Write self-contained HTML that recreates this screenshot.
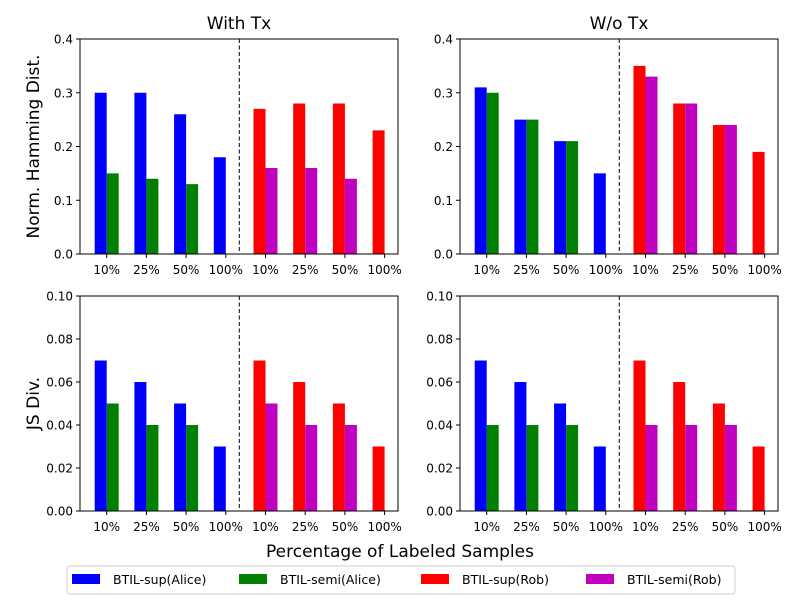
<!DOCTYPE html>
<html><head><meta charset="utf-8"><style>
body{margin:0;background:#fff}
svg{display:block;font-family:"DejaVu Sans","Liberation Sans",sans-serif}
</style></head><body>
<svg id="c" width="800" height="600" xmlns="http://www.w3.org/2000/svg"></svg>
<script>
const categories = ["10%","25%","50%","100%","10%","25%","50%","100%"];
const tlSup = [0.30,0.30,0.26,0.18,0.27,0.28,0.28,0.23];
const tlSemi = [0.15,0.14,0.13,null,0.16,0.16,0.14,null];
const trSup = [0.31,0.25,0.21,0.15,0.35,0.28,0.24,0.19];
const trSemi = [0.30,0.25,0.21,null,0.33,0.28,0.24,null];
const blSup = [0.07,0.06,0.05,0.03,0.07,0.06,0.05,0.03];
const blSemi = [0.05,0.04,0.04,null,0.05,0.04,0.04,null];
const brSup = [0.07,0.06,0.05,0.03,0.07,0.06,0.05,0.03];
const brSemi = [0.04,0.04,0.04,null,0.04,0.04,0.04,null];
const topTicks = [0,0.1,0.2,0.3,0.4];
const botTicks = [0,0.02,0.04,0.06,0.08,0.10];
const topTickLabels = ["0.0","0.1","0.2","0.3","0.4"];
const botTickLabels = ["0.00","0.02","0.04","0.06","0.08","0.10"];

const svg=document.getElementById('c');
const NS="http://www.w3.org/2000/svg";
function mk(t,a,txt){const e=document.createElementNS(NS,t);for(const k in a)e.setAttribute(k,a[k]);if(txt!==undefined)e.textContent=txt;svg.appendChild(e);return e;}

function panel(x0,y0,w,h,ymax,ticks,tlabels,sup,semi,name,title,ylabel){
  const xs=i=>x0+26.7+i*39.7;
  const ys=v=>y0+h-v/ymax*h;
  const bw=12;
  sup.forEach((v,i)=>{
    if(v===null)return;
    const r=mk('rect',{x:xs(i)-bw,y:ys(v),width:bw,height:y0+h-ys(v),fill:i<4?'#0000ff':'#ff0000'});
    
    
  });
  semi.forEach((v,i)=>{
    if(v===null)return;
    const r=mk('rect',{x:xs(i),y:ys(v),width:bw,height:y0+h-ys(v),fill:i<4?'#008000':'#bf00bf'});
    
    
  });
  const d=mk('line',{x1:x0+159.3,x2:x0+159.3,y1:y0,y2:y0+h,stroke:'#000','stroke-dasharray':'4,2.5','stroke-width':1});
  
  
  const f=mk('rect',{x:x0,y:y0,width:w,height:h,fill:'none',stroke:'#000','stroke-width':1});
  
  
  ticks.forEach((t,i)=>{
    mk('line',{x1:x0-4,x2:x0,y1:ys(t),y2:ys(t),stroke:'#000'});
    const l=mk('text',{x:x0-7,y:ys(t)+4.5,'text-anchor':'end','font-size':12},tlabels[i]);
    
    
  });
  categories.forEach((c,i)=>{
    mk('line',{x1:xs(i),x2:xs(i),y1:y0+h,y2:y0+h+4,stroke:'#000'});
    const l=mk('text',{x:xs(i),y:y0+h+20,'text-anchor':'middle','font-size':12},c);
    
    
  });
  if(title){const t=mk('text',{x:x0+w/2,y:y0-10,'text-anchor':'middle','font-size':17},title);
    }
  if(ylabel){const t=mk('text',{x:0,y:0,'text-anchor':'middle','font-size':17,transform:`translate(39,${y0+h/2}) rotate(-90)`},ylabel);
    }
}
panel(80,39,318,215,0.4,topTicks,topTickLabels,tlSup,tlSemi,'top-left','With Tx','Norm. Hamming Dist.');
panel(460,39,318,215,0.4,topTicks,topTickLabels,trSup,trSemi,'top-right','W/o Tx',null);
panel(80,296,318,215,0.1,botTicks,botTickLabels,blSup,blSemi,'bottom-left',null,'JS Div.');
panel(460,296,318,215,0.1,botTicks,botTickLabels,brSup,brSemi,'bottom-right',null,null);

const xl=mk('text',{x:400,y:557,'text-anchor':'middle','font-size':17},'Percentage of Labeled Samples');



const lg=mk('rect',{x:67,y:566,width:668,height:28,rx:3,fill:'#fff',stroke:'#ccc'});


const legendNames=["BTIL-sup(Alice)","BTIL-semi(Alice)","BTIL-sup(Rob)","BTIL-semi(Rob)"];
const legendColors=['#0000ff','#008000','#ff0000','#bf00bf'];
const legendX=[72,239,421,586];
legendNames.forEach((n,i)=>{
  const p=mk('rect',{x:legendX[i],y:574,width:28,height:10,fill:legendColors[i]});
  
  
  const t=mk('text',{x:legendX[i]+41,y:584,'font-size':12.5},n);
  
  
});
</script>
</body></html>
